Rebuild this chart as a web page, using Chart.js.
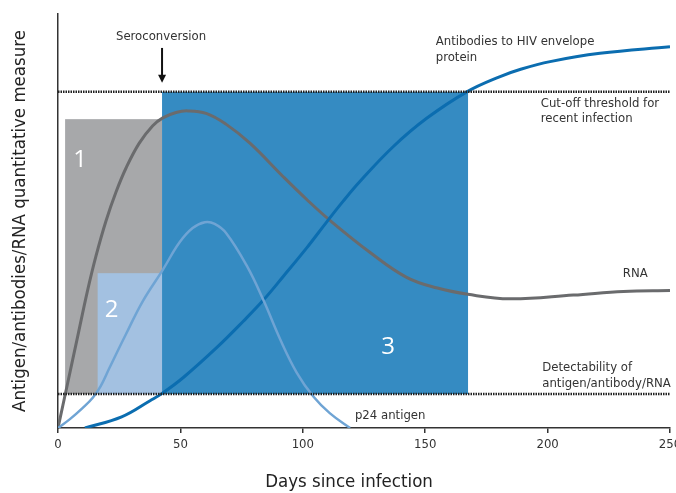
<!DOCTYPE html>
<html>
<head>
<meta charset="utf-8">
<script src="https://cdn.jsdelivr.net/npm/chart.js@4"></script>
<style>
    html, body { margin: 0; padding: 0; background: #fff; }
    #wrap { width: 676px; height: 493px; }
</style>
</head>
<body>
<div id="wrap"><canvas id="myChart" width="676" height="493"></canvas></div>
<script>
"use strict";

// Kurvor (dagar / nivå 0-100).
const rnaDays = [0, 4, 8, 12, 15.5, 19.6, 23.7, 27.8, 33.2, 38.7, 42.8, 48.2, 53, 60.5, 68.6, 78.4, 92, 101.6, 111, 127.5, 142.4, 155, 167.4, 184.6, 210.5, 231, 250];
const rnaLevel = [0, 11, 22, 33, 41.5, 50, 57, 62.8, 68.8, 73, 74.9, 76.2, 76.6, 76, 73.4, 68.8, 60.7, 55.2, 50.2, 42.4, 36.4, 33.8, 32.3, 31.2, 32.1, 33, 33.2];

const p24Days = [0, 5, 10, 14.2, 17.5, 21, 27.8, 34.6, 42.8, 49.6, 55, 60, 64, 68.8, 77.1, 83.9, 90.7, 97.5, 104.3, 111, 119.3];
const p24Level = [0, 2.2, 4.8, 7.3, 10.2, 14.5, 22.7, 30.6, 38.2, 44.8, 48.3, 49.7, 49.3, 47, 39.2, 30.9, 21.5, 13.4, 7.6, 3.6, 0];

const antibodyDays = [11, 26, 37.6, 42.4, 51.2, 64.8, 75.7, 83.9, 92, 101.6, 109.8, 116.5, 123.4, 137, 150.6, 167, 180.6, 188.7, 201, 221.4, 250];
const antibodyLevel = [0, 2.7, 6.6, 8.3, 12.2, 19.4, 25.8, 30.9, 36.6, 43.5, 49.8, 54.8, 59.6, 68, 74.8, 81.2, 84.9, 86.6, 88.5, 90.5, 92.1];

// Tröskelnivåer.
const cutoffLevel = 81.2;
const detectLevel = 8.2;

// Fönster 1, 2, 3 (start, slut, topp).
const windowNames = ["1", "2", "3"];
const windowStart = [2.9, 16.2, 42.5];
const windowEnd = [42.5, 42.5, 167.5];
const windowTop = [74.6, 37.4, cutoffLevel];

// Axel.
const dayTicks = [0, 50, 100, 150, 200, 250];

const smallFont = "13px 'DejaVu Sans Condensed', 'Liberation Sans Narrow', sans-serif";
const bigFont = "'DejaVu Sans Condensed', 'Liberation Sans Narrow', sans-serif";

// Gör om två arrayer till punkter.
function toPoints(xs, ys) {
    return xs.map((x, i) => ({ x: x, y: ys[i] }));
}

// Ritar rutorna bakom kurvorna.
const windowPlugin = {
    id: "windows",
    beforeDatasetsDraw(chart) {
        const ctx = chart.ctx;
        const x = chart.scales.x;
        const y = chart.scales.y;
        const colors = ["#a7a8aa", "#a3c1e1", "#358bc2"];
        ctx.save();
        windowNames.forEach((name, i) => {
            const left = x.getPixelForValue(windowStart[i]);
            const right = x.getPixelForValue(windowEnd[i]);
            const top = y.getPixelForValue(windowTop[i]);
            const bottom = y.getPixelForValue(detectLevel);
            ctx.fillStyle = colors[i];
            ctx.fillRect(left, top, right - left, bottom - top);
        });
        ctx.restore();
    }
};

// Texter och pil ovanpå.
const labelPlugin = {
    id: "labels",
    afterDatasetsDraw(chart) {
        const ctx = chart.ctx;
        const x = chart.scales.x;
        const y = chart.scales.y;
        ctx.save();

        // Siffror i rutorna.
        ctx.fillStyle = "#ffffff";
        ctx.font = "24px 'Open Sans', sans-serif";
        ctx.textAlign = "center";
        ctx.textBaseline = "middle";
        const numberPos = [[9, 64.7], [21.9, 28.5], [134.8, 19.6]];
        windowNames.forEach((name, i) => {
            ctx.fillText(name, x.getPixelForValue(numberPos[i][0]), y.getPixelForValue(numberPos[i][1]));
        });

        // Beskrivande texter.
        ctx.fillStyle = "#333333";
        ctx.font = smallFont;
        ctx.textAlign = "left";
        const texts = [
            ["Antibodies to HIV envelope", 154.3, 93.4],
            ["protein", 154.3, 89.5],
            ["Cut-off threshold for", 197.2, 78.4],
            ["recent infection", 197.2, 74.8],
            ["RNA", 230.7, 37.4],
            ["Detectability of", 197.8, 14.7],
            ["antigen/antibody/RNA", 197.8, 10.8],
            ["p24 antigen", 121.3, 3.1]
        ];
        texts.forEach(t => {
            ctx.fillText(t[0], x.getPixelForValue(t[1]), y.getPixelForValue(t[2]));
        });

        // Serokonversion med pil.
        const sx = x.getPixelForValue(42.5);
        ctx.textAlign = "center";
        ctx.fillText("Seroconversion", sx - 1, y.getPixelForValue(94.5));
        const y0 = y.getPixelForValue(91.8);
        const y1 = y.getPixelForValue(83.4);
        ctx.strokeStyle = "#111111";
        ctx.fillStyle = "#111111";
        ctx.lineWidth = 2;
        ctx.beginPath();
        ctx.moveTo(sx, y0);
        ctx.lineTo(sx, y1 - 6);
        ctx.stroke();
        ctx.beginPath();
        ctx.moveTo(sx - 4, y1 - 8);
        ctx.lineTo(sx + 4, y1 - 8);
        ctx.lineTo(sx, y1);
        ctx.closePath();
        ctx.fill();

        // X-axelns titel, något vänster om mitten som i förlagan.
        ctx.fillStyle = "#222222";
        ctx.font = "18.5px " + bigFont;
        ctx.fillText("Days since infection", x.getPixelForValue(118.9), chart.height - 11);

        ctx.restore();
    }
};

const ctx = document.getElementById("myChart");

new Chart(ctx, {
    type: "line",
    data: {
        datasets: [
            {
                label: "Cut-off",
                data: toPoints([0, 250], [cutoffLevel, cutoffLevel]),
                borderColor: "#222222",
                borderWidth: 2.5,
                borderDash: [1.5, 1],
                tension: 0
            },
            {
                label: "Detectability",
                data: toPoints([0, 250], [detectLevel, detectLevel]),
                borderColor: "#222222",
                borderWidth: 2.5,
                borderDash: [1.5, 1],
                tension: 0
            },
            {
                label: "p24 antigen",
                data: toPoints(p24Days, p24Level),
                borderColor: "#6fa4d4",
                borderWidth: 2.5
            },
            {
                label: "Antibodies",
                data: toPoints(antibodyDays, antibodyLevel),
                borderColor: "#0b6db0",
                borderWidth: 3
            },
            {
                label: "RNA",
                data: toPoints(rnaDays, rnaLevel),
                borderColor: "#6a6b6d",
                borderWidth: 3
            }
        ]
    },
    options: {
        responsive: false,
        animation: false,
        events: [],
        layout: {
            padding: { top: 14, right: 6, left: 0, bottom: 0 }
        },
        elements: {
            point: { radius: 0 },
            line: { tension: 0.4, fill: false, capBezierPoints: true }
        },
        plugins: {
            legend: { display: false },
            tooltip: { enabled: false }
        },
        scales: {
            x: {
                type: "linear",
                min: 0,
                max: 250,
                afterBuildTicks(scale) {
                    scale.ticks = dayTicks.map(v => ({ value: v }));
                },
                afterFit(scale) {
                    scale.height = 65;
                    scale.paddingLeft = 0;
                    scale.paddingRight = 0;
                },
                border: { display: true, color: "#333333", width: 1.5 },
                grid: { drawOnChartArea: false, drawTicks: true, tickLength: 5, color: "#333333", lineWidth: 1.5 },
                ticks: {
                    color: "#333333",
                    padding: 4,
                    maxRotation: 0,
                    font: { family: bigFont, size: 13 }
                },
                title: { display: false }
            },
            y: {
                min: 0,
                max: 100,
                afterFit(scale) {
                    scale.width = 58;
                },
                border: { display: true, color: "#333333", width: 1.5 },
                grid: { drawOnChartArea: false, drawTicks: false },
                ticks: { display: false },
                title: {
                    display: true,
                    text: "Antigen/antibodies/RNA quantitative measure",
                    color: "#222222",
                    padding: { top: 9, bottom: 9 },
                    font: { family: bigFont, size: 18.5 }
                }
            }
        }
    },
    plugins: [windowPlugin, labelPlugin]
});
</script>
</body>
</html>
